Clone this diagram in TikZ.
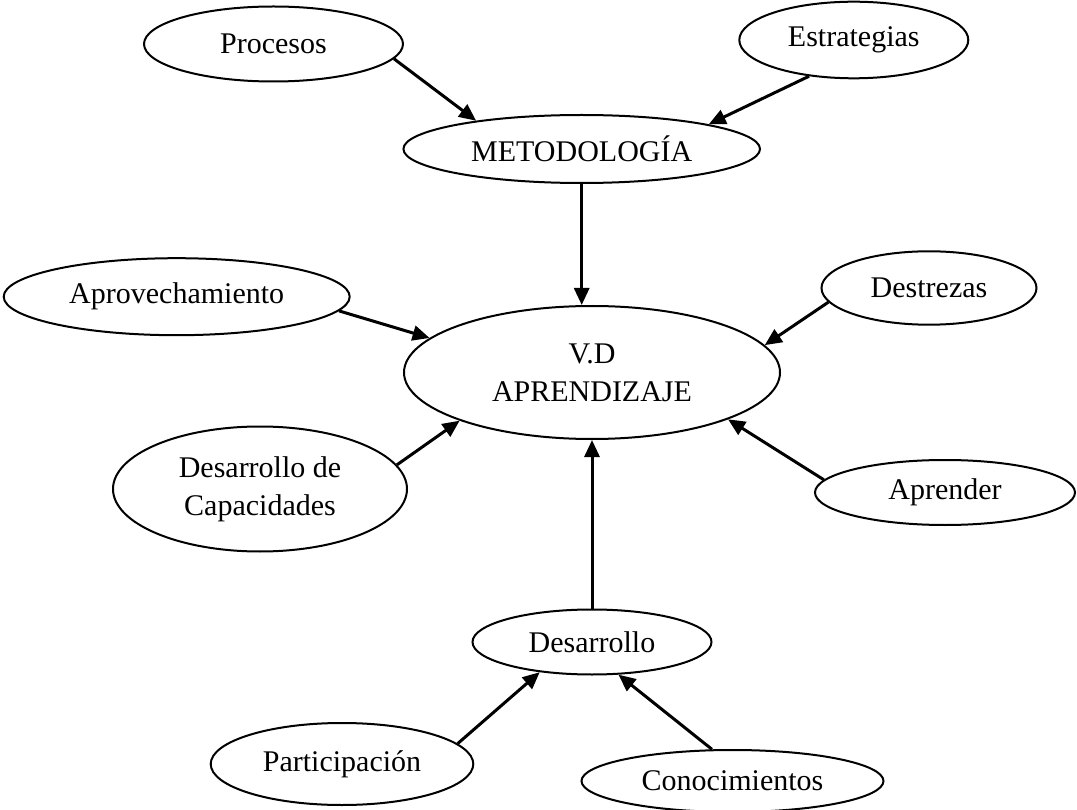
\documentclass[tikz,border=0pt]{standalone}
\usepackage{fontspec}
\setmainfont{Liberation Serif}
\usetikzlibrary{shapes.geometric,arrows.meta}
\begin{document}
\begin{tikzpicture}[x=1pt,y=-1pt,
  oval/.style={ellipse,draw,line width=2pt,inner sep=0pt,align=center,
    font=\fontsize{30}{38}\selectfont},
  conn/.style={line width=3pt,-{Triangle[length=17pt,width=15pt]}}]
\useasboundingbox (0,0) rectangle (1077,810);
\node[oval,minimum width=259pt,minimum height=75pt] (proc) at (273.5,44) {Procesos};
\node[oval,minimum width=229pt,minimum height=76.6pt] (estr) at (853.8,40) {Estrategias};
\node[oval,minimum width=356.6pt,minimum height=68pt] (met) at (581.7,149) {METODOLOGÍA};
\node[oval,minimum width=346pt,minimum height=77pt] (aprov) at (176.7,296.7) {Aprovechamiento};
\node[oval,minimum width=215pt,minimum height=73.4pt] (dest) at (929,288) {Destrezas};
\node[oval,minimum width=376pt,minimum height=133pt] (vd) at (592,372.5) {V.D\\APRENDIZAJE};
\node[oval,minimum width=294pt,minimum height=125pt] (cap) at (260,489) {Desarrollo de\\Capacidades};
\node[oval,minimum width=260pt,minimum height=65pt] (apr) at (945,492.5) {Aprender};
\node[oval,minimum width=239pt,minimum height=65pt] (des) at (592,642) {Desarrollo};
\node[oval,minimum width=262.6pt,minimum height=82pt] (part) at (342,764) {Participación};
\node[oval,minimum width=302pt,minimum height=62pt] (con) at (732.5,781) {Conocimientos};

\draw[conn] (proc.-7.7) -- (met.165.6);
\draw[conn] (estr.219.7) -- (met.11.3);
\draw[conn] (met.south) -- (vd.north -| met.south);
\draw[conn] (aprov.-5.4) -- (vd.168.7);
\draw[conn] (dest.188.8) -- (vd.9.8);
\draw[conn] (cap.10.8) -- (vd.-160.7);
\draw[conn] (apr.174.9) -- (vd.-19.3);
\draw[conn] (des.north) -- (vd.south);
\draw[conn] (part.10.1) -- (des.210.6);
\draw[conn] (con.123.9) -- (des.-51.4);
\end{tikzpicture}
\end{document}
